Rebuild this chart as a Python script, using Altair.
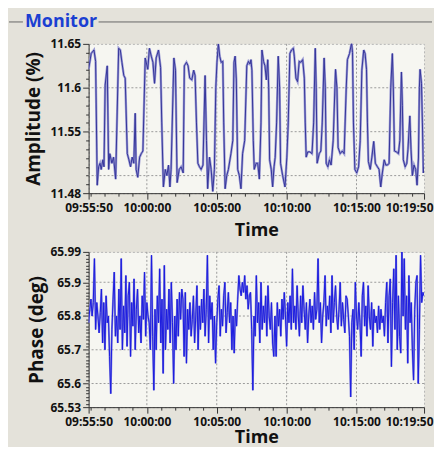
import altair as alt
import pandas as pd

# ---------------- data ----------------
# Amplitude samples: seconds after 09:55:50, value in %
amp_t = [0, 11, 23, 30, 37, 43, 49, 54, 61, 66,
         71, 80, 86, 91, 100, 107, 116, 129, 136, 143,
         151, 157, 166, 173, 180, 187, 194, 200, 204, 211,
         219, 226, 233, 243, 254, 261, 269, 276, 283, 290,
         300, 309, 314, 321, 329, 336, 343, 349, 354, 366,
         373, 380, 389, 397, 406, 411, 420, 427, 434, 443,
         451, 457, 463, 469, 476, 483, 491, 500, 506, 511,
         519, 526, 533, 540, 546, 551, 557, 563, 569, 576,
         580, 586, 593, 600, 611, 619, 624, 629, 634, 640,
         647, 654, 661, 670, 679, 686, 693, 697, 701, 707,
         711, 719, 726, 733, 740, 744, 751, 757, 763, 769,
         773, 777, 784, 790, 796, 801, 807, 814, 820, 824,
         833, 843, 851, 857, 864, 871, 879, 883, 890, 897,
         904, 911, 919, 926, 930, 934, 941, 950, 959, 966,
         973, 977, 981, 990, 997, 1003, 1011, 1016, 1020, 1027,
         1034, 1041, 1050, 1060, 1066, 1071, 1080, 1089, 1097, 1106,
         1111, 1120, 1129, 1133, 1137, 1143, 1151, 1159, 1166, 1173,
         1181, 1187, 1193, 1197, 1201, 1209, 1216, 1224, 1231, 1240,
         1247, 1254, 1261, 1269, 1276, 1283, 1290, 1297, 1304, 1308,
         1313, 1321, 1330, 1336, 1343, 1347, 1351, 1359, 1366, 1371,
         1379, 1384, 1390, 1397, 1404, 1410, 1416, 1420, 1423, 1429,
         1433, 1437, 1440]
amp_v = [11.621, 11.639, 11.643, 11.630, 11.489, 11.510, 11.514, 11.507, 11.518, 11.510,
         11.603, 11.625, 11.507, 11.525, 11.514, 11.521, 11.496, 11.645, 11.643, 11.629,
         11.614, 11.611, 11.525, 11.518, 11.510, 11.521, 11.514, 11.571, 11.507, 11.498,
         11.521, 11.525, 11.528, 11.634, 11.621, 11.645, 11.636, 11.629, 11.605, 11.634,
         11.643, 11.623, 11.560, 11.487, 11.507, 11.500, 11.512, 11.487, 11.507, 11.634,
         11.620, 11.492, 11.507, 11.510, 11.503, 11.625, 11.629, 11.625, 11.611, 11.609,
         11.620, 11.614, 11.560, 11.514, 11.510, 11.507, 11.512, 11.614, 11.540, 11.485,
         11.521, 11.507, 11.482, 11.507, 11.600, 11.629, 11.650, 11.636, 11.629, 11.630,
         11.560, 11.485, 11.500, 11.507, 11.525, 11.540, 11.629, 11.636, 11.610, 11.507,
         11.500, 11.485, 11.525, 11.540, 11.625, 11.630, 11.627, 11.632, 11.620, 11.540,
         11.507, 11.514, 11.514, 11.496, 11.560, 11.643, 11.630, 11.625, 11.609, 11.632,
         11.600, 11.518, 11.507, 11.487, 11.510, 11.521, 11.560, 11.636, 11.600, 11.514,
         11.500, 11.487, 11.521, 11.560, 11.639, 11.643, 11.645, 11.636, 11.611, 11.607,
         11.630, 11.629, 11.632, 11.611, 11.560, 11.521, 11.527, 11.527, 11.525, 11.560,
         11.645, 11.600, 11.514, 11.525, 11.528, 11.560, 11.634, 11.600, 11.514, 11.510,
         11.518, 11.512, 11.540, 11.621, 11.600, 11.532, 11.525, 11.528, 11.525, 11.600,
         11.632, 11.639, 11.651, 11.640, 11.560, 11.507, 11.503, 11.510, 11.540, 11.620,
         11.643, 11.639, 11.621, 11.560, 11.516, 11.507, 11.521, 11.539, 11.514, 11.510,
         11.507, 11.487, 11.503, 11.518, 11.512, 11.512, 11.514, 11.600, 11.639, 11.600,
         11.528, 11.527, 11.525, 11.540, 11.618, 11.580, 11.518, 11.510, 11.514, 11.530,
         11.568, 11.530, 11.500, 11.512, 11.507, 11.489, 11.520, 11.600, 11.621, 11.605,
         11.560, 11.503, 11.510]

# Phase samples, one every 5 s from 09:55:50, in degrees
phase_v = [65.78, 65.82, 65.85, 65.80, 65.84, 65.97, 65.76, 65.84, 65.80, 65.75,
           65.81, 65.88, 65.72, 65.84, 65.70, 65.86, 65.78, 65.80, 65.68, 65.57,
           65.76, 65.85, 65.93, 65.74, 65.80, 65.72, 65.88, 65.76, 65.97, 65.70,
           65.83, 65.75, 65.92, 65.71, 65.86, 65.90, 65.68, 65.84, 65.77, 65.91,
           65.70, 65.82, 65.88, 65.75, 65.80, 65.72, 65.86, 65.79, 65.93, 65.74,
           65.84, 65.80, 65.78, 65.70, 65.98, 65.74, 65.58, 65.82, 65.70, 65.86,
           65.78, 65.94, 65.72, 65.85, 65.63, 65.95, 65.70, 65.82, 65.76, 65.88,
           65.72, 65.90, 65.78, 65.60, 65.80, 65.70, 65.85, 65.74, 65.87, 65.79,
           65.88, 65.85, 65.68, 65.87, 65.66, 65.82, 65.76, 65.84, 65.74, 65.79,
           65.86, 65.72, 65.80, 65.89, 65.70, 65.83, 65.76, 65.85, 65.78, 65.88,
           65.74, 65.82, 65.98, 65.72, 65.86, 65.79, 65.84, 65.70, 65.80, 65.66,
           65.78, 65.85, 65.89, 65.74, 65.82, 65.77, 65.86, 65.90, 65.75, 65.81,
           65.87, 65.78, 65.84, 65.70, 65.80, 65.69, 65.82, 65.77, 65.85, 65.92,
           65.88, 65.86, 65.90, 65.87, 65.92, 65.85, 65.89, 65.82, 65.86, 65.87,
           65.76, 65.58, 65.80, 65.74, 65.92, 65.78, 65.84, 65.72, 65.90, 65.76,
           65.83, 65.78, 65.86, 65.74, 65.89, 65.80, 65.76, 65.84, 65.72, 65.68,
           65.80, 65.68, 65.84, 65.77, 65.82, 65.74, 65.85, 65.79, 65.87, 65.80,
           65.71, 65.84, 65.78, 65.86, 65.76, 65.94, 65.78, 65.83, 65.76, 65.89,
           65.80, 65.74, 65.86, 65.78, 65.89, 65.82, 65.76, 65.84, 65.72, 65.80,
           65.85, 65.78, 65.83, 65.76, 65.87, 65.79, 65.82, 65.97, 65.78, 65.84,
           65.72, 65.80, 65.84, 65.92, 65.77, 65.83, 65.79, 65.86, 65.75, 65.92,
           65.78, 65.84, 65.89, 65.80, 65.76, 65.82, 65.90, 65.77, 65.84, 65.79,
           65.75, 65.86, 65.85, 65.80, 65.74, 65.56, 65.78, 65.82, 65.70, 65.90,
           65.80, 65.76, 65.84, 65.78, 65.68, 65.86, 65.90, 65.77, 65.83, 65.74,
           65.89, 65.80, 65.76, 65.84, 65.71, 65.82, 65.78, 65.80, 65.75, 65.83,
           65.76, 65.82, 65.78, 65.80, 65.74, 65.84, 65.90, 65.72, 65.86, 65.91,
           65.65, 65.84, 65.94, 65.76, 65.98, 65.70, 65.86, 65.74, 65.69, 65.99,
           65.80, 65.97, 65.76, 65.86, 65.66, 65.92, 65.78, 65.84, 65.70, 65.61,
           65.82, 65.90, 65.92, 65.60, 65.76, 65.98, 65.84, 65.87, 65.86]
phase_step_s = 5

amp_labels = [11.48, 11.55, 11.6, 11.65]
amp_grid = [11.5, 11.55, 11.6]
phase_labels = [65.53, 65.6, 65.7, 65.8, 65.9, 65.99]
phase_grid = [65.6, 65.7, 65.8, 65.9]
time_grid_s = [250, 550, 850, 1150]     # 10:00:00, 10:05:00, 10:10:00, 10:15:00

START = pd.Timestamp("2024-01-01 09:55:50")
FONT = "Open Sans"


def stamps(secs):
    return [(START + pd.Timedelta(seconds=int(s))).strftime("%Y-%m-%dT%H:%M:%S") for s in secs]


def dt(h, m, s):
    return alt.DateTime(year=2024, month=1, date=1, hours=h, minutes=m, seconds=s)


amp_df = pd.DataFrame({"time": stamps(amp_t), "amp": amp_v})
phase_df = pd.DataFrame({"time": stamps([i * phase_step_s for i in range(len(phase_v))]),
                         "phase": phase_v})

x_ticks = [dt(9, 55, 50)] + [dt(9 + m // 60, m % 60, 0) for m in range(56, 80)] + [dt(10, 19, 50)]
x_domain = [dt(9, 55, 50), dt(10, 19, 50)]
LBLX = "seconds(datum.value) == 50 || (seconds(datum.value) == 0 && minutes(datum.value) % 5 == 0)"
LASTX = "minutes(datum.value) == 19 && seconds(datum.value) == 50"


def x_axis(label_pad, title_y):
    return alt.Axis(values=x_ticks,
                    labelExpr=f"({LBLX}) ? timeFormat(datum.value, '%H:%M:%S') : ''",
                    tickSize={"condition": {"test": LBLX, "value": 6}, "value": 3},
                    labelAlign={"condition": {"test": LASTX, "value": "right"}, "value": "center"},
                    labelOffset={"condition": {"test": LASTX, "value": 9}, "value": 0},
                    grid=False, domainColor="#333", tickColor="#333",
                    labelFont=FONT, labelFontWeight="bold", labelFontSize=12, labelColor="#111",
                    labelPadding=label_pad, labelOverlap=False, labelFlush=False,
                    title="Time", titleFont=FONT, titleFontSize=18, titleFontWeight="bold",
                    titleColor="#111", titleY=title_y, titleBaseline="middle")


def y_axis(ticks, labels, title, title_x):
    arr = "[" + ",".join(str(v) for v in labels) + "]"
    test = f"indexof({arr}, datum.value) >= 0"
    return alt.Axis(values=ticks,
                    labelExpr=f"({test}) ? ('' + datum.value) : ''",
                    tickSize={"condition": {"test": test, "value": 6}, "value": 3},
                    grid=False, domainColor="#333", tickColor="#333",
                    labelFont=FONT, labelFontWeight="bold", labelFontSize=12, labelColor="#111",
                    labelPadding=2, labelOverlap=False, labelFlush=False,
                    title=title, titleFont=FONT, titleFontSize=19, titleFontWeight="bold",
                    titleColor="#111", titleX=title_x, titleBaseline="middle")


amp_ticks = [round(11.48 + 0.01 * i, 2) for i in range(18)]
phase_ticks = [round(65.53 + 0.01 * i, 2) for i in range(47)]

grid_style = dict(color="#9a9a9a", strokeDash=[2, 2], strokeWidth=1)


def panel(df, field, scale, xax, yax, halo_color, halo_w, line_color, grid_vals, width, height, extra=()):
    xs = alt.Scale(domain=x_domain, nice=False)
    X = alt.X("time:T", scale=xs, axis=xax)
    Y = alt.Y(f"{field}:Q", scale=scale, axis=yax)
    main = alt.Chart(df).encode(x=X, y=Y)
    vgrid = alt.Chart(pd.DataFrame({"time": stamps(time_grid_s)})).mark_rule(**grid_style).encode(
        x=X)
    hgrid = alt.Chart(pd.DataFrame({field: grid_vals})).mark_rule(**grid_style).encode(y=Y)
    halo = main.mark_line(color=halo_color, strokeWidth=halo_w, clip=True)
    line = main.mark_line(color=line_color, strokeWidth=1.0, clip=True)
    return alt.layer(vgrid, hgrid, halo, line, *extra).properties(width=width, height=height)


head_df = pd.DataFrame({"label": ["Monitor"]})
head_text = alt.Chart(head_df).mark_text(align="left", baseline="middle", font=FONT, fontSize=18,
                                         fontWeight="bold", color="#1b3fd2").encode(
    text="label:N", x=alt.value(-64), y=alt.value(-22))
head_rule_l = alt.Chart(head_df).mark_rule(color="#666", strokeWidth=1).encode(
    x=alt.value(-80), x2=alt.value(-66), y=alt.value(-22))
head_rule_r = alt.Chart(head_df).mark_rule(color="#666", strokeWidth=1).encode(
    x=alt.value(10), x2=alt.value(345), y=alt.value(-22))

top = panel(amp_df, "amp", alt.Scale(domain=[11.48, 11.65], nice=False, zero=False),
            x_axis(3, 38), y_axis(amp_ticks, amp_labels, "Amplitude (%)", -55),
            "#9c9cd4", 2.4, "#35359a", amp_grid, 337, 150,
            extra=(head_text, head_rule_l, head_rule_r))

bottom = panel(phase_df, "phase", alt.Scale(domain=[65.53, 65.99], nice=False, zero=False),
               x_axis(3, 31), y_axis(phase_ticks, phase_labels, "Phase (deg)", -52),
               "#8c8cdc", 2.0, "#1c1ce0", phase_grid, 337, 156)

chart = alt.vconcat(top, bottom, spacing=4).properties(
    padding={"top": 3, "left": 0, "right": 0, "bottom": -2}, background="#e4e2da"
).configure_view(fill="#f6f6f1", stroke="#b5b5b5", strokeDash=[2, 2])

chart.save("out.html", embed_options={"renderer": "svg", "actions": False})
